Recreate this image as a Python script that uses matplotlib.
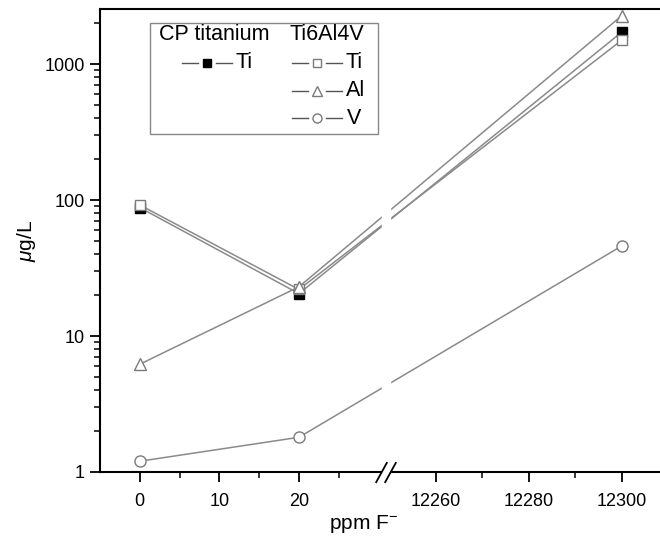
import numpy as np
import matplotlib
matplotlib.use("Agg")
import matplotlib.pyplot as plt
from matplotlib.lines import Line2D
from matplotlib.patches import Rectangle
from matplotlib.ticker import LogLocator, NullFormatter

plt.rcParams['font.family'] = ['Liberation Sans', 'DejaVu Sans']
plt.rcParams['mathtext.fontset'] = 'custom'
plt.rcParams['mathtext.rm'] = 'Liberation Sans'
plt.rcParams['mathtext.it'] = 'Liberation Sans:italic'

# data
ppm = [0, 20, 12300]
cp_ti = [88, 20.5, 1720]
ti64_ti = [92, 22.0, 1500]
ti64_al = [6.2, 23.0, 2270]
ti64_v = [1.2, 1.8, 46]

xticks = [0, 10, 20, 12260, 12280, 12300]
xminor = [5, 15, 25, 12270, 12290]
yticks = [1, 10, 100, 1000]

# broken x axis as one piecewise scale
L, R0, R, K = 30.5, 12250.0, 31.33, 0.585


def fwd(x):
    x = np.asarray(x, float)
    mid = L + (x - L) * (R - L) / (R0 - L)
    return np.where(x <= L, x, np.where(x >= R0, R + (x - R0) * K, mid))


def inv(s):
    s = np.asarray(s, float)
    mid = L + (s - L) * (R0 - L) / (R - L)
    return np.where(s <= L, s, np.where(s >= R, R0 + (s - R) / K, mid))


line_col = '#8a8a8a'
edge_col = '#7a7a7a'

fig = plt.figure(figsize=(6.6, 5.48), dpi=100)
ax = fig.add_axes([100 / 660, 1 - 472 / 548, 560 / 660, 463 / 548])
ax.set_xscale('function', functions=(fwd, inv))
ax.set_yscale('log')

ax.plot(ppm, cp_ti, color=line_col, lw=1.1, marker='s', ms=7, mfc='black', mec='black', clip_on=False)
ax.plot(ppm, ti64_ti, color=line_col, lw=1.1, marker='s', ms=7.5, mfc='white', mec=edge_col, mew=1.0, clip_on=False)
ax.plot(ppm, ti64_al, color=line_col, lw=1.1, marker='^', ms=9, mfc='white', mec=edge_col, mew=1.0, clip_on=False)
ax.plot(ppm, ti64_v, color=line_col, lw=1.1, marker='o', ms=8, mfc='white', mec=edge_col, mew=1.0, clip_on=False)

ax.set_xlim(-5, 12308.2)
ax.set_ylim(1, 2540)

# gap at the break
ax.axvspan(L, R0 + 0.2, ymin=-0.01, ymax=0.97, color='white', zorder=3, clip_on=False)
slash = [(-0.55, -1.0), (0.55, 1.0)]
ax.plot([30.3, 12250.1], [0, 0], transform=ax.get_xaxis_transform(), marker=slash, ms=15,
        ls='none', color='black', mew=1.3, clip_on=False, zorder=4)

ax.set_xticks(xticks, labels=[str(v) for v in xticks])
ax.set_xticks(xminor, minor=True)
ax.set_yticks(yticks, labels=[str(v) for v in yticks])
ax.yaxis.set_minor_locator(LogLocator(base=10, subs=np.arange(2, 10)))
ax.yaxis.set_minor_formatter(NullFormatter())

ax.tick_params(which='major', direction='out', length=7, width=1.3, labelsize=13, pad=4)
ax.tick_params(which='minor', direction='out', length=4, width=1.1)
ax.tick_params(axis='x', which='major', length=7, pad=8)
ax.spines['right'].set_visible(False)
for s in ['left', 'bottom', 'top']:
    ax.spines[s].set_linewidth(1.5)

ax.set_xlabel(r'ppm F$^{-}$', fontsize=15)
ax.xaxis.set_label_coords(0.47, -0.088)
ax.set_ylabel(r'$\mu$g/L', fontsize=15)
ax.yaxis.set_label_coords(-0.11, 0.5)


# hand-made two-column legend
def px(x, y):
    return ((x - 100) / 560, (472 - y) / 463)


ax.add_patch(Rectangle(px(150, 134), 228 / 560, 111 / 463, transform=ax.transAxes,
                       fill=False, ec='#888888', lw=1.0, zorder=5))
ax.text(*px(159, 35), 'CP titanium', transform=ax.transAxes, fontsize=15.5, va='center', zorder=6)
ax.text(*px(290, 35), 'Ti6Al4V', transform=ax.transAxes, fontsize=15.5, va='center', zorder=6)


def leg_entry(xc, y, label, lx, **mk):
    for a, b in [(xc - 25, xc - 9), (xc + 9, xc + 25)]:
        ax.add_line(Line2D([px(a, y)[0], px(b, y)[0]], [px(a, y)[1]] * 2, transform=ax.transAxes,
                           color='#555555', lw=1.0, zorder=6))
    ax.add_line(Line2D([px(xc, y)[0]], [px(xc, y)[1]], transform=ax.transAxes, ls='none', zorder=6, **mk))
    ax.text(*px(lx, y), label, transform=ax.transAxes, fontsize=15.5, va='center', zorder=6)


leg_entry(207, 63, 'Ti', 236, marker='s', ms=6, mfc='black', mec='black')
leg_entry(317, 63, 'Ti', 346, marker='s', ms=6, mfc='white', mec=edge_col)
leg_entry(317, 91, 'Al', 346, marker='^', ms=7, mfc='white', mec=edge_col)
leg_entry(317, 118, 'V', 347, marker='o', ms=6.5, mfc='white', mec=edge_col)

fig.savefig('out.png', dpi=100)
